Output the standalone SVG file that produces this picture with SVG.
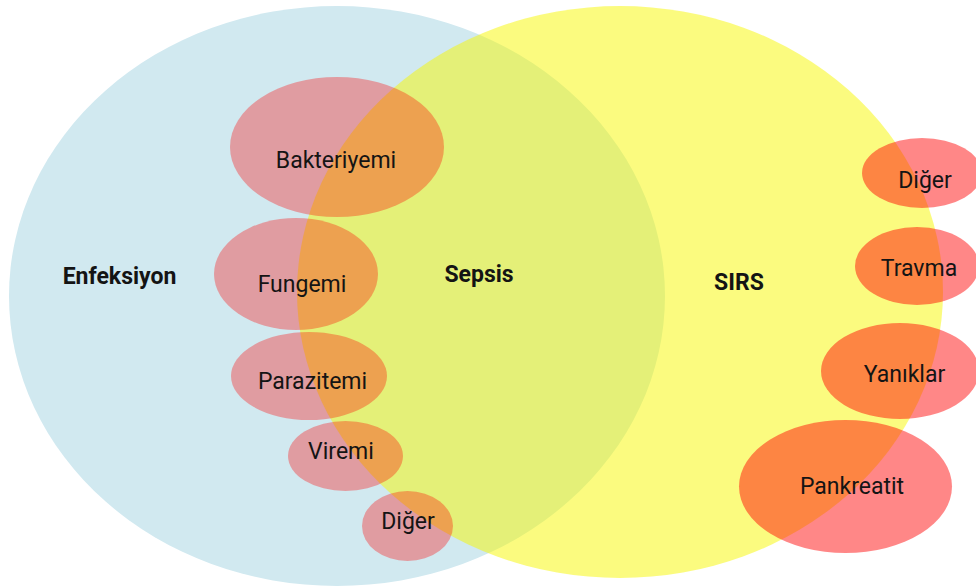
<svg xmlns="http://www.w3.org/2000/svg" width="976" height="587" viewBox="0 0 976 587">
  <style>
    .lbl { font-family: Roboto, "Open Sans", "Liberation Sans", sans-serif; font-size: 23px; fill: #141414; text-anchor: middle; }
    .bold { font-weight: bold; }
    .inf { fill: #ff0000; fill-opacity: 0.33; }
    .sirs { fill: #ff0000; fill-opacity: 0.47; }
  </style>
  <rect x="0" y="0" width="976" height="587" fill="#ffffff"/>
  <g id="enfeksiyon">
    <ellipse cx="337" cy="296" rx="328" ry="290" fill="#d1e9f0"/>
    <text class="lbl bold" x="119.5" y="284">Enfeksiyon</text>
  </g>
  <g id="sirs">
    <ellipse cx="620" cy="292" rx="323" ry="286" fill="#f8f800" fill-opacity="0.5"/>
    <text class="lbl bold" x="739" y="289.5">SIRS</text>
  </g>
  <g id="sepsis">
    <text class="lbl bold" x="479" y="282">Sepsis</text>
  </g>
  <g id="bakteriyemi">
    <ellipse class="inf" cx="337" cy="147" rx="107" ry="70"/>
    <text class="lbl" x="336" y="168">Bakteriyemi</text>
  </g>
  <g id="fungemi">
    <ellipse class="inf" cx="296" cy="274" rx="82" ry="56"/>
    <text class="lbl" x="302" y="292">Fungemi</text>
  </g>
  <g id="parazitemi">
    <ellipse class="inf" cx="309" cy="376" rx="78" ry="44"/>
    <text class="lbl" x="312.5" y="389">Parazitemi</text>
  </g>
  <g id="viremi">
    <ellipse class="inf" cx="345.5" cy="456" rx="57.5" ry="35"/>
    <text class="lbl" x="341" y="459">Viremi</text>
  </g>
  <g id="diger-enfeksiyon">
    <ellipse class="inf" cx="407.5" cy="526" rx="45.5" ry="35"/>
    <text class="lbl" x="408" y="529">Diğer</text>
  </g>
  <g id="diger-sirs">
    <ellipse class="sirs" cx="922" cy="173" rx="60" ry="35"/>
    <text class="lbl" x="925" y="188">Diğer</text>
  </g>
  <g id="travma">
    <ellipse class="sirs" cx="917" cy="266" rx="62" ry="39"/>
    <text class="lbl" x="919" y="276">Travma</text>
  </g>
  <g id="yaniklar">
    <ellipse class="sirs" cx="900" cy="371" rx="79" ry="48"/>
    <text class="lbl" x="904.5" y="381.5">Yanıklar</text>
  </g>
  <g id="pankreatit">
    <ellipse class="sirs" cx="845.5" cy="486.5" rx="106.5" ry="66.5"/>
    <text class="lbl" x="852" y="494">Pankreatit</text>
  </g>
  <g id="connectors"/>
</svg>
